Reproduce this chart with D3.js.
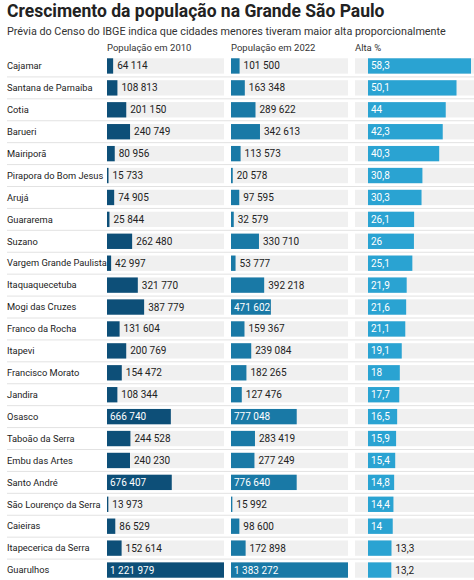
<!DOCTYPE html>
<html><head><meta charset="utf-8">
<script src="https://cdn.jsdelivr.net/npm/d3@7"></script>
<style>body{margin:0;background:#fff;font-family:Roboto,sans-serif}</style>
</head><body><svg></svg>
<script>
var cities = ["Cajamar","Santana de Parnaíba","Cotia","Barueri","Mairiporã","Pirapora do Bom Jesus","Arujá","Guararema","Suzano","Vargem Grande Paulista","Itaquaquecetuba","Mogi das Cruzes","Franco da Rocha","Itapevi","Francisco Morato","Jandira","Osasco","Taboão da Serra","Embu das Artes","Santo André","São Lourenço da Serra","Caieiras","Itapecerica da Serra","Guarulhos"];
var pop2010 = [64114,108813,201150,240749,80956,15733,74905,25844,262480,42997,321770,387779,131604,200769,154472,108344,666740,244528,240230,676407,13973,86529,152614,1221979];
var pop2022 = [101500,163348,289622,342613,113573,20578,97595,32579,330710,53777,392218,471602,159367,239084,182265,127476,777048,283419,277249,776640,15992,98600,172898,1383272];
var alta = [58.3,50.1,44,42.3,40.3,30.8,30.3,26.1,26,25.1,21.9,21.6,21.1,19.1,18,17.7,16.5,15.9,15.4,14.8,14.4,14,13.3,13.2];
var headers = ["População em 2010","População em 2022","Alta %"];

var W = 474, H = 580;
var svg = d3.select("svg").attr("width", W).attr("height", H);

svg.append("text").attr("x",7).attr("y",17).attr("font-size",17.5).attr("font-weight",700).attr("fill","#222")
  .text("Crescimento da população na Grande São Paulo");
svg.append("text").attr("x",7).attr("y",35).attr("font-size",10.8).attr("fill","#333")
  .text("Prévia do Censo do IBGE indica que cidades menores tiveram maior alta proporcionalmente");

var y = d3.scaleBand().domain(cities).range([55, 581]).paddingInner(0.3).paddingOuter(0.15);
var fmt = function(v){ return d3.format(",")(v).replace(/,/g, " "); };

var cols = [
  {data: pop2010, x0: 107, bx: 107, w: 117, bgEnd: 224, max: 1221979, color: "#0d4f78", f: fmt},
  {data: pop2022, x0: 231, bx: 231, w: 117, bgEnd: 348, max: 1383272, color: "#1979a6", f: fmt},
  {data: alta, x0: 355, bx: 368, w: 103, bgEnd: 474, max: 58.3, color: "#2aa3d2", f: function(v){ return String(v).replace(".", ","); }}
];

svg.selectAll(".sep").data(cities.slice(1)).enter().append("line")
  .attr("x1",7).attr("x2",W)
  .attr("y1", function(d){ return y(d) - y.step()*y.paddingInner()/2; })
  .attr("y2", function(d){ return y(d) - y.step()*y.paddingInner()/2; })
  .attr("stroke","#e2e2e2").attr("stroke-width",1);

svg.selectAll(".city").data(cities).enter().append("text")
  .attr("x",7).attr("y", function(d){ return y(d)+y.bandwidth()/2; }).attr("dy","0.35em")
  .attr("font-size",9.3).attr("fill","#222").text(function(d){ return d; });

cols.forEach(function(c, ci){
  var x = d3.scaleLinear().domain([0, c.max]).range([c.bx, c.bx + c.w]);
  svg.append("text").attr("x", c.x0).attr("y", 51).attr("font-size",9.5).attr("fill","#333").text(headers[ci]);
  var g = svg.append("g");
  g.selectAll("rect.bg").data(cities).enter().append("rect")
    .attr("x", c.x0).attr("width", c.bgEnd - c.x0)
    .attr("y", function(d){ return y(d); }).attr("height", y.bandwidth()).attr("fill","#f0f0f0");
  g.selectAll("rect.bar").data(c.data).enter().append("rect")
    .attr("x", c.bx).attr("y", function(d,i){ return y(cities[i]); })
    .attr("width", function(d){ return Math.max(1, x(d) - c.bx); })
    .attr("height", y.bandwidth()).attr("fill", c.color);
  g.selectAll("text").data(c.data).enter().append("text")
    .attr("y", function(d,i){ return y(cities[i]) + y.bandwidth()/2; }).attr("dy","0.35em")
    .attr("font-size",10)
    .each(function(d){
      var s = c.f(d), tw = s.length*4.9 + 4, bw = x(d) - c.bx;
      var inside = bw > tw;
      d3.select(this).attr("x", inside ? c.bx + 3 : x(d) + 4)
        .attr("fill", inside ? "#fff" : "#222").text(s);
    });
});
</script></body></html>
